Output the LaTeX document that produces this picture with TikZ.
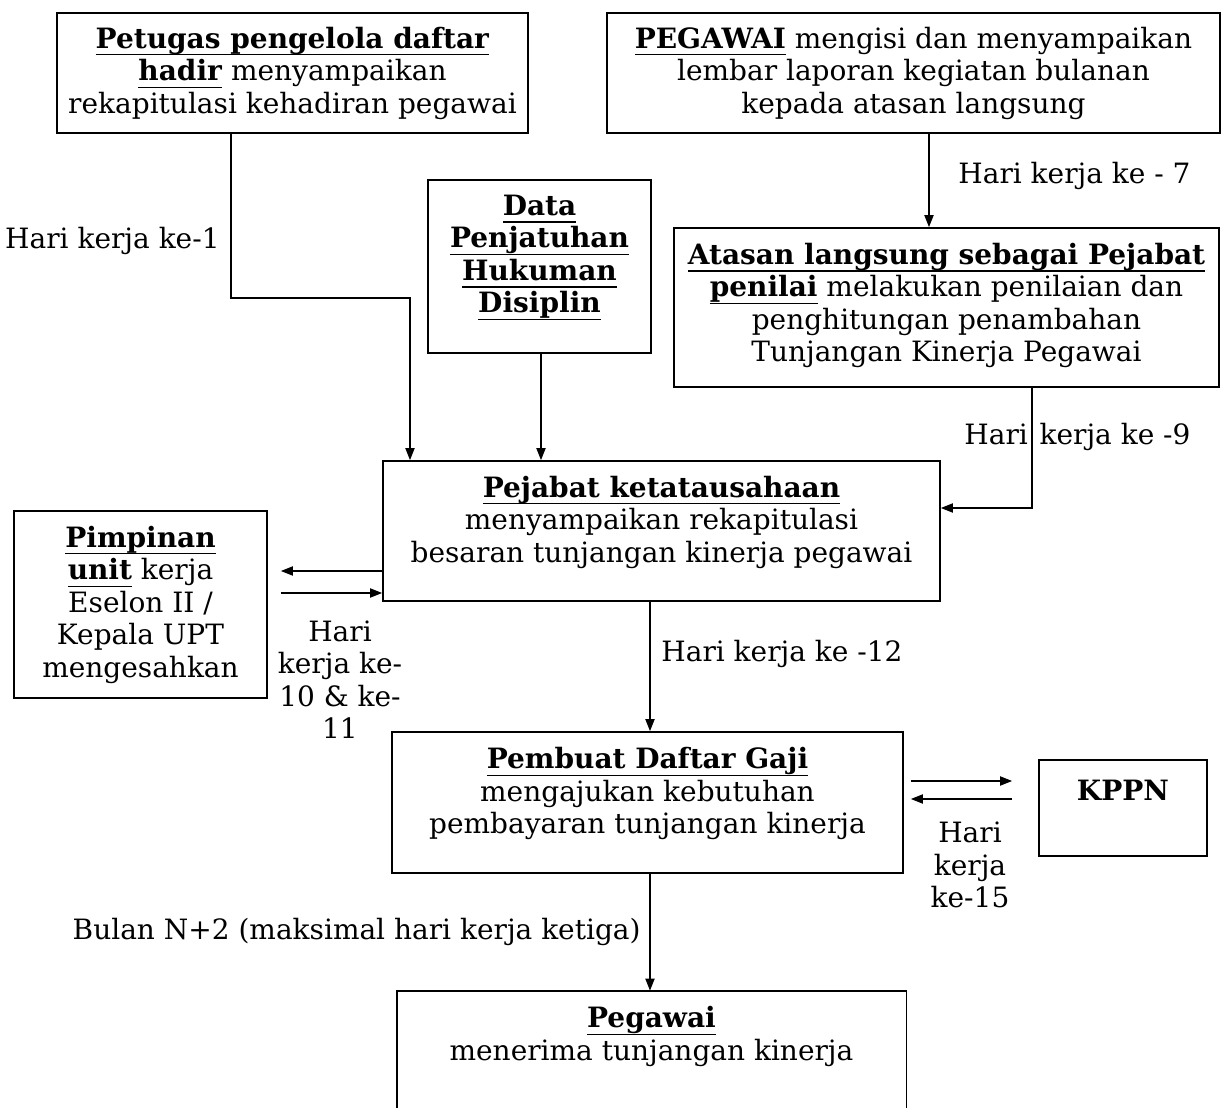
\documentclass[tikz,border=0pt]{standalone}
\usepackage{fontspec}
\setmainfont{DejaVu Serif}
\usetikzlibrary{arrows.meta,fit,calc}
\tikzset{
  box/.style={draw, line width=0.9pt, inner sep=0pt},
  txt/.style={inner sep=0pt, align=center, font=\fontsize{14}{16.25}\selectfont},
  lbl/.style={inner sep=0pt, align=center, font=\fontsize{14}{16.25}\selectfont},
  arr/.style={line width=0.65pt, -{Triangle[length=6pt,width=4.6pt]}},
}
\newsavebox{\ubbox}
\newcommand{\ub}[1]{\sbox{\ubbox}{\textbf{#1}}\rlap{\rule[-3.7pt]{\wd\ubbox}{0.6pt}}\usebox{\ubbox}}
\begin{document}
\begin{tikzpicture}[x=0.5pt,y=-0.5pt]
\useasboundingbox (0,0) rectangle (1223,1108);
% boxes
\node[box, fit={(57,13) (528,133)}] (A) {};
\node[box, fit={(607,13) (1220,133)}] (B) {};
\node[box, fit={(428,180) (651,353)}] (D) {};
\node[box, fit={(674,228) (1219,387)}] (S) {};
\node[box, fit={(383,461) (940,601)}] (P) {};
\node[box, fit={(14,511) (267,698)}] (U) {};
\node[box, fit={(392,732) (903,873)}] (G) {};
\node[box, fit={(1039,760) (1207,856)}] (K) {};
\node[inner sep=0pt, fit={(397,991) (906,1108)}] (E) {};
\draw[line width=0.9pt] (E.south west) -- (E.north west) -- (E.north east) -- (E.south east);
% texts
\node[txt] (At) at (292.5,73) {\ub{Petugas pengelola daftar}\\\ub{hadir} menyampaikan\\rekapitulasi kehadiran pegawai};
\node[txt] (Bt) at (913.5,73) {\ub{PEGAWAI} mengisi dan menyampaikan\\lembar laporan kegiatan bulanan\\kepada atasan langsung};
\node[txt] (Dt) at (539.5,257.5) {\ub{Data}\\\ub{Penjatuhan}\\\ub{Hukuman}\\\ub{Disiplin}};
\node[txt] (St) at (946.5,305.5) {\ub{Atasan langsung sebagai Pejabat}\\\ub{penilai} melakukan penilaian dan\\penghitungan penambahan\\Tunjangan Kinerja Pegawai};
\node[txt] (Pt) at (661.5,522) {\ub{Pejabat ketatausahaan}\\menyampaikan rekapitulasi\\besaran tunjangan kinerja pegawai};
\node[txt] (Ut) at (140.5,604.5) {\ub{Pimpinan}\\\ub{unit} kerja\\Eselon II /\\Kepala UPT\\mengesahkan};
\node[txt] (Gt) at (647.5,793.5) {\ub{Pembuat Daftar Gaji}\\mengajukan kebutuhan\\pembayaran tunjangan kinerja};
\node[txt] (Kt) at (1123,790) {\textbf{KPPN}};
\node[txt] (Et) at (651.5,1036.5) {\ub{Pegawai}\\menerima tunjangan kinerja};
% connectors
\coordinate (c1) at (231,298);
\coordinate (c2) at (410,298);
\draw[arr] (A.south -| c1) -- (c1) -- (c2) -- (c2 |- P.north);
\draw[arr] (D.south -| 541,0) -- (P.north -| 541,0);
\coordinate (c3) at (929,0);
\draw[arr] (B.south -| c3) -- (S.north -| c3);
\coordinate (c4) at (1032,508);
\draw[arr] (S.south -| c4) -- (c4) -- (c4 -| P.east);
\coordinate (c5) at (0,571);
\coordinate (c6) at (0,593);
\draw[arr, shorten >=6.5pt] (P.west |- c5) -- (U.east |- c5);
\draw[arr, shorten <=6.5pt] (U.east |- c6) -- (P.west |- c6);
\coordinate (c7) at (650,0);
\draw[arr] (P.south -| c7) -- (G.north -| c7);
\coordinate (c8) at (0,781);
\coordinate (c9) at (0,799);
\draw[arr, shorten <=3.5pt, shorten >=13pt] (G.east |- c8) -- (K.west |- c8);
\draw[arr, shorten <=13pt, shorten >=3.5pt] (K.west |- c9) -- (G.east |- c9);
\draw[arr] (G.south -| c7) -- (E.north -| c7);
% labels
\node[lbl, anchor=east] (L1) at (220,241) {Hari kerja ke-1};
\node[lbl, anchor=west] (L2) at (958,176) {Hari kerja ke - 7};
\node[lbl, anchor=west] (L3) at (964,437) {Hari\hspace{0.42em}kerja ke -9};
\node[lbl] (L4) at (340,679.5) {Hari\\kerja ke-\\10 \& ke-\\11};
\node[lbl, anchor=west] (L5) at (661,654) {Hari kerja ke -12};
\node[lbl] (L6) at (970,865) {Hari\\kerja\\ke-15};
\node[lbl, anchor=east] (L7) at (641,932) {Bulan N+2 (maksimal hari kerja ketiga)};
\end{tikzpicture}
\end{document}
